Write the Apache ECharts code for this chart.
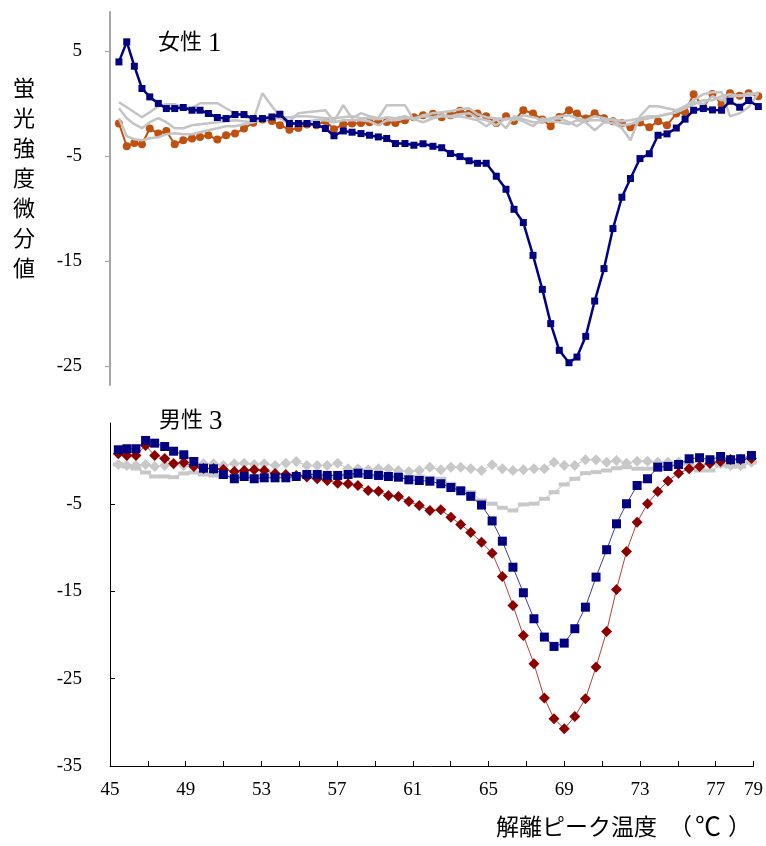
<!DOCTYPE html>
<html><head><meta charset="utf-8">
<script src="https://cdn.jsdelivr.net/npm/echarts@6/dist/echarts.min.js"></script>
<style>html,body{margin:0;padding:0;background:#fff}#c{width:766px;height:846px}</style>
</head><body><div id="c"></div>
<script>
// ---- top panel (女性1) ----
const tempsTop = [45.47,45.88,46.28,46.68,47.09,47.54,47.96,48.40,48.85,49.31,
49.73,50.17,50.64,51.10,51.57,52.04,52.53,53.01,53.51,53.93,
54.43,54.90,55.35,55.85,56.32,56.77,57.26,57.72,58.19,58.64,
59.10,59.54,60.00,60.50,60.97,61.45,61.97,62.43,62.89,63.39,
63.87,64.31,64.77,65.30,65.81,66.23,66.72,67.23,67.72,68.16,
68.61,69.12,69.54,70.00,70.47,70.96,71.43,71.90,72.35,72.85,
73.34,73.80,74.27,74.76,75.22,75.67,76.18,76.66,77.14,77.58,
78.09,78.56,79.07];
const blueTop = [3.95,5.86,3.54,1.42,0.62,0.00,-0.49,-0.49,-0.39,-0.65,
-0.65,-0.96,-1.34,-1.44,-1.06,-1.06,-1.44,-1.44,-1.29,-1.03,
-1.91,-1.91,-1.91,-2.01,-2.39,-3.08,-2.62,-2.74,-2.87,-3.03,
-3.19,-3.34,-3.82,-3.82,-3.98,-3.84,-4.08,-4.22,-4.77,-5.06,
-5.46,-5.70,-5.70,-6.93,-8.17,-10.08,-11.34,-14.46,-17.70,-20.96,
-23.50,-24.68,-24.14,-22.17,-18.81,-15.72,-11.91,-8.93,-7.15,-5.25,
-4.79,-3.03,-2.90,-2.34,-1.50,-0.65,-0.49,-0.62,-0.65,0.21,
-0.36,0.28,-0.30];
const orangeTop = [-1.91,-4.08,-3.76,-3.89,-2.39,-2.87,-2.62,-3.89,-3.50,-3.34,
-3.19,-3.03,-3.44,-3.03,-2.87,-2.39,-1.84,-1.53,-1.67,-2.08,
-2.50,-2.35,-2.00,-2.08,-1.67,-2.46,-1.98,-1.91,-1.86,-1.79,
-1.76,-1.76,-1.86,-1.60,-1.31,-1.12,-0.98,-1.31,-1.12,-0.71,
-0.96,-0.96,-1.22,-1.86,-1.22,-1.67,-0.65,-0.96,-1.53,-2.17,
-1.29,-0.65,-0.96,-1.44,-0.93,-1.41,-1.70,-1.89,-2.27,-1.82,
-2.27,-1.70,-2.08,-0.96,-0.84,0.88,-0.36,0.90,-0.08,0.97,
0.73,0.97,0.69];
const grayTopA = [0.11,-0.36,-0.84,-1.31,-0.84,-0.27,-0.08,-0.08,-0.46,-0.46,
0.02,0.02,0.02,-0.46,-0.93,-1.22,-1.60,0.97,-0.27,-1.22,
-1.70,-0.93,-0.84,-0.74,-0.65,-1.70,-0.17,-1.41,-0.93,-1.22,
-1.41,-0.17,-0.17,-0.17,-1.60,-1.12,-0.93,-0.84,-0.74,-0.55,
-0.46,-1.03,-1.31,-1.41,-1.50,-1.41,-1.70,-2.17,-1.41,-1.70,
-1.79,-1.98,-1.60,-1.79,-2.55,-1.79,-1.89,-2.36,-3.50,-1.22,
-0.27,-0.27,-0.46,-0.65,-0.27,0.30,0.88,1.07,1.07,-1.22,
-0.93,-0.36,0.97];
const grayTopB = [-1.41,-3.12,-3.41,-3.50,-3.31,-3.22,-2.93,-2.84,-2.93,-2.93,
-2.74,-2.55,-2.36,-2.17,-2.17,-1.98,-1.79,-1.60,-1.41,-1.41,
-1.98,-1.98,-1.70,-1.60,-1.60,-1.79,-1.60,-1.60,-1.60,-1.70,
-2.08,-1.60,-1.60,-1.41,-1.41,-1.22,-1.31,-1.12,-1.22,-1.03,
-0.93,-1.41,-1.60,-2.08,-1.41,-1.60,-1.12,-1.31,-1.60,-1.41,
-1.22,-1.12,-1.41,-1.60,-1.22,-1.41,-1.60,-2.08,-1.98,-1.60,
-1.41,-1.22,-1.03,-0.84,-0.46,-0.08,0.30,0.30,0.69,0.88,
0.69,0.97,0.88];
const grayTopC = [-0.46,-1.41,-1.98,-2.36,-1.79,-1.41,-1.79,-2.36,-2.36,-2.08,
-1.98,-1.89,-1.79,-1.70,-1.60,-1.70,-1.79,-1.41,-1.22,-1.31,
-1.31,-1.22,-1.22,-1.31,-1.41,-1.41,-1.31,-1.22,-1.41,-1.41,
-1.50,-1.31,-1.41,-1.22,-1.50,-1.79,-1.41,-1.22,-1.31,-1.22,
-1.41,-1.60,-2.17,-1.50,-2.36,-1.22,-1.50,-1.79,-1.79,-1.50,
-1.41,-1.79,-2.17,-1.60,-1.60,-1.60,-1.50,-1.70,-1.60,-1.41,
-1.22,-1.22,-1.03,-0.84,-0.46,0.11,-0.08,0.69,0.30,0.59,
0.78,0.69,1.07];

// ---- bottom panel (男性3) ----
const tempsBottom = [45.44,45.89,46.37,46.88,47.36,47.89,48.36,48.90,49.43,49.94,
50.47,50.99,51.57,52.09,52.62,53.15,53.72,54.29,54.84,55.40,
55.95,56.48,57.03,57.58,58.10,58.64,59.19,59.71,60.24,60.79,
61.34,61.90,62.48,63.01,63.53,64.06,64.63,65.19,65.73,66.29,
66.84,67.40,67.95,68.46,69.00,69.56,70.12,70.68,71.24,71.76,
72.29,72.85,73.40,73.94,74.48,75.04,75.60,76.15,76.70,77.26,
77.79,78.32,78.89];
const blueBottom = [1.23,1.35,1.35,2.30,1.99,1.61,1.07,0.66,-0.11,-0.88,
-0.95,-1.60,-2.09,-1.83,-2.09,-1.98,-1.98,-1.98,-1.83,-1.60,
-1.60,-1.71,-1.71,-1.60,-1.45,-1.60,-1.71,-1.83,-1.91,-2.21,
-2.29,-2.37,-2.66,-3.09,-3.47,-4.10,-5.10,-6.92,-9.24,-12.22,
-15.15,-18.13,-20.23,-21.30,-20.92,-19.27,-16.80,-13.36,-10.22,-7.25,
-4.95,-2.86,-2.09,-0.76,-0.68,-0.45,0.20,0.32,0.09,0.46,
0.09,0.20,0.58];
const redBottom = [0.77,0.58,0.58,1.72,0.58,0.23,-0.34,-0.22,-0.68,-0.91,
-0.91,-1.03,-1.25,-1.14,-1.06,-1.14,-1.48,-1.60,-1.71,-1.88,
-2.09,-2.29,-2.59,-2.66,-2.86,-3.43,-3.51,-4.00,-4.12,-4.69,
-5.15,-5.72,-5.64,-6.49,-7.33,-8.24,-9.35,-10.61,-13.28,-16.60,
-20.04,-23.28,-27.22,-29.58,-30.73,-29.32,-27.29,-23.67,-19.58,-14.77,
-10.42,-7.06,-4.95,-3.55,-2.34,-1.45,-0.95,-0.68,-0.34,-0.11,
0.12,0.12,0.23];
const grayDiamondBottom = [-0.45,-0.57,-0.57,-0.45,-0.68,-0.57,-0.45,-0.57,-0.45,-0.37,
-0.37,-0.57,-0.37,-0.30,-0.45,-0.37,-0.57,-0.30,-0.11,-0.57,
-0.57,-0.57,-0.30,-0.94,-0.94,-1.06,-0.94,-0.94,-1.14,-1.25,
-1.14,-0.76,-1.06,-0.76,-0.76,-0.94,-1.14,-0.49,-0.94,-1.14,
-1.06,-0.94,-0.94,-0.19,-0.57,-0.57,0.09,0.09,-0.19,0.01,
-0.30,-0.07,-0.07,-0.19,-0.19,-0.19,-0.19,-0.76,0.01,-0.37,
-0.57,-0.57,-0.19];
const grayDashBottom = [-0.45,-0.68,-0.91,-1.37,-1.83,-1.83,-1.91,-1.48,-1.37,-1.60,
-1.71,-1.83,-1.83,-1.83,-1.83,-1.83,-1.83,-1.77,-1.71,-1.71,
-1.71,-1.83,-1.83,-1.71,-1.71,-1.71,-1.83,-1.83,-1.83,-1.83,
-1.83,-1.98,-2.09,-2.66,-3.24,-3.63,-4.58,-4.95,-5.41,-5.72,
-5.03,-4.95,-4.38,-3.63,-2.74,-2.09,-1.45,-1.33,-1.14,-0.88,
-0.76,-0.94,-0.94,-0.94,-0.68,-0.37,-0.37,-1.14,-1.14,-0.57,
-0.68,-0.68,-0.22];

const topTicks = [5, -5, -15, -25];
const bottomTicks = [-5, -15, -25];
const bottomLabels = [-5, -15, -25, -35];
const xLabelValues = [45, 49, 53, 57, 61, 65, 69, 73, 77, 79];
const panelNames = ['女性', '男性'];
const panelNums = ['1', '3'];
const yTitle = '蛍光強度微分値';
const xTitleMain = '解離ピーク温度';
const xTitleUnit = ['（', '℃', '）'];

const pair = (xs, ys) => ys.map((v, i) => [xs[i], v]);
const SERIF = '"Liberation Serif", "Noto Sans CJK JP", serif';
const CJK = '"Noto Sans CJK JP", sans-serif';

const chart = echarts.init(document.getElementById('c'), null, {renderer: 'canvas'});
const grayLine = (data) => ({
  type: 'line', xAxisIndex: 0, yAxisIndex: 0, data, showSymbol: false, symbol: 'none', clip: false,
  lineStyle: {color: '#c4c4c4', width: 2.5}, z: 3
});
const txt = (text, left, top, font, size, extra) => Object.assign({
  type: 'text', left, top, style: {text, fontFamily: font, fontSize: size, fill: '#000'}
}, extra || {});
chart.setOption({
  animation: false,
  backgroundColor: '#fff',
  grid: [
    {left: 110, top: 12, width: 647, height: 373},
    {left: 110, top: 423, width: 647, height: 343}
  ],
  xAxis: [
    {gridIndex: 0, type: 'value', min: 45, max: 79, show: false},
    {gridIndex: 1, type: 'value', min: 45, max: 79, interval: 2,
     axisLine: {onZero: false, lineStyle: {color: '#000', width: 1}},
     axisTick: {inside: true, length: 5, lineStyle: {color: '#000'}},
     splitLine: {show: false},
     axisLabel: {margin: 15, fontFamily: SERIF, fontSize: 19, color: '#000',
       formatter: v => xLabelValues.indexOf(Math.round(v)) >= 0 ? String(Math.round(v)) : ''}}
  ],
  yAxis: [
    {gridIndex: 0, type: 'value', min: -26.8, max: 8.7,
     axisLine: {show: true, onZero: false, lineStyle: {color: '#a6a6a6', width: 2}},
     axisTick: {show: true, length: 5, customValues: topTicks, lineStyle: {color: '#a6a6a6', width: 1}},
     splitLine: {show: false},
     axisLabel: {customValues: topTicks, margin: 28, fontFamily: SERIF, fontSize: 19, color: '#000'}},
    {gridIndex: 1, type: 'value', min: -35, max: 4.3,
     axisLine: {show: true, onZero: false, lineStyle: {color: '#000', width: 1}},
     axisTick: {show: true, inside: true, length: 5, customValues: bottomTicks, lineStyle: {color: '#000'}},
     splitLine: {show: false},
     axisLabel: {customValues: bottomLabels, margin: 28, fontFamily: SERIF, fontSize: 19, color: '#000'}}
  ],
  series: [
    {type: 'line', xAxisIndex: 0, yAxisIndex: 0, data: pair(tempsTop, orangeTop), clip: false,
     symbol: 'circle', symbolSize: 8, itemStyle: {color: '#c0500f'},
     lineStyle: {color: '#c0500f', width: 2}, z: 2},
    grayLine(pair(tempsTop, grayTopA)),
    grayLine(pair(tempsTop, grayTopB)),
    grayLine(pair(tempsTop, grayTopC)),
    {type: 'line', xAxisIndex: 0, yAxisIndex: 0, data: pair(tempsTop, blueTop), clip: false,
     symbol: 'rect', symbolSize: 7, itemStyle: {color: '#000080'},
     lineStyle: {color: '#000080', width: 2.5}, z: 4},

    {type: 'line', xAxisIndex: 1, yAxisIndex: 1, data: pair(tempsBottom, grayDiamondBottom),
     symbol: 'diamond', symbolSize: 11, itemStyle: {color: '#c8c8c8'},
     lineStyle: {color: '#c8c8c8', width: 1}, z: 2},
    {type: 'line', xAxisIndex: 1, yAxisIndex: 1, data: pair(tempsBottom, grayDashBottom),
     symbol: 'rect', symbolSize: [11, 4], itemStyle: {color: '#c8c8c8'},
     lineStyle: {color: '#c8c8c8', width: 1}, z: 2},
    {type: 'line', xAxisIndex: 1, yAxisIndex: 1, data: pair(tempsBottom, redBottom),
     symbol: 'diamond', symbolSize: 11, itemStyle: {color: '#8b0000'},
     lineStyle: {color: '#b24040', width: 1}, z: 3},
    {type: 'line', xAxisIndex: 1, yAxisIndex: 1, data: pair(tempsBottom, blueBottom),
     symbol: 'rect', symbolSize: 9, itemStyle: {color: '#000080'},
     lineStyle: {color: '#3a3aa8', width: 1}, z: 4}
  ],
  graphic: [
    txt(panelNames[0], 158, 30, CJK, 22),
    txt(panelNums[0], 208, 30, SERIF, 27),
    txt(panelNames[1], 159, 408, CJK, 22),
    txt(panelNums[1], 209, 408, SERIF, 27),
    {type: 'text', left: 13, top: 73, style: {text: yTitle.split('').join('\n'), fontFamily: CJK, fontSize: 22, lineHeight: 30, fill: '#000'}},
    txt(xTitleMain, 496, 815, CJK, 23),
    {type: 'text', right: 766 - 692, top: 815, style: {text: xTitleUnit[0], fontFamily: CJK, fontSize: 23, fill: '#000'}},
    txt(xTitleUnit[1], 695, 813, CJK, 26),
    txt(xTitleUnit[2], 728, 815, CJK, 23)
  ]
});
</script>
</body></html>
